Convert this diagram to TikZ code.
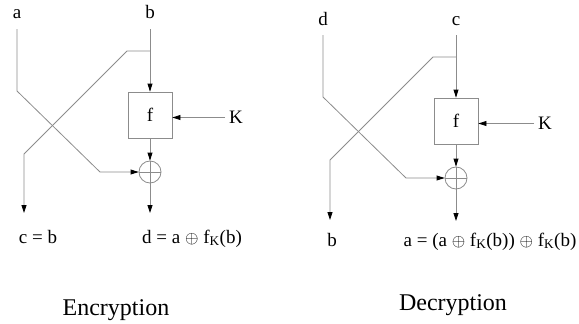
\documentclass[tikz,border=0pt]{standalone}
\usepackage{fontspec}
\setmainfont{Liberation Serif}
\usetikzlibrary{arrows.meta, positioning, calc}

\begin{document}
\begin{tikzpicture}[
    x=1pt, y=-1pt,
    wire/.style={draw=black!45, line width=0.8pt},
    arr/.style={wire, -{Triangle[length=8pt, width=5pt, color=black]}},
    lbl/.style={font=\fontsize{19}{22}\selectfont, inner sep=0pt,
                text height=13pt, text depth=2pt, outer ysep=8pt,
                outer xsep=4pt, anchor=base},
    fbox/.style={rectangle, draw=black!45, line width=0.8pt,
                 minimum width=44pt, minimum height=46pt, inner sep=0pt,
                 font=\fontsize{19}{22}\selectfont},
    xor/.style={circle, draw=black!45, line width=0.8pt, minimum size=22pt,
                inner sep=0pt,
                path picture={\draw[black!45, line width=0.8pt]
                  (path picture bounding box.north) -- (path picture bounding box.south)
                  (path picture bounding box.west) -- (path picture bounding box.east);}},
    heading/.style={font=\fontsize{24}{28}\selectfont, anchor=base}
]
  \useasboundingbox (0,0) rectangle (579,324);

  % Encryption
  \node[lbl] (a) at (17,19)  {a};
  \node[lbl] (b) at (150,19) {b};
  \node[fbox] (f1) at (150,115) {f};
  \node[lbl] (k1) at (236,123) {K};
  \node[xor] (x1) at (150,172) {};
  \coordinate (br1) at (150,51);
  \coordinate (c1end) at (24,213);
  \coordinate (d1end) at (150,213);

  \draw[arr] (b.south) -- (f1.north);
  \draw[arr] (k1.west) -- (k1.west -| f1.east);
  \draw[arr] (f1.south) -- (x1.north);
  \draw[arr] (a.south) -- (17,91) -- (100,172) -- (x1.west);
  \draw[arr] (br1) -- (127,51) -- (24,154) -- (c1end);
  \draw[arr] (x1.south) -- (d1end);

  \node[lbl] (c1) at (38,243)  {c = b};
  \node[lbl] (d1) at (192,243) {d = a $\oplus$ f\textsubscript{K}(b)};
  \node[heading] (enc) at (116,315) {Encryption};

  % Decryption
  \node[lbl] (d) at (323,25) {d};
  \node[lbl] (c) at (456,25) {c};
  \node[fbox] (f2) at (456,121) {f};
  \node[lbl] (k2) at (545,129) {K};
  \node[xor] (x2) at (456,178) {};
  \coordinate (br2) at (456,57);
  \coordinate (b2end) at (330,220);
  \coordinate (a2end) at (456,221);

  \draw[arr] (c.south) -- (f2.north);
  \draw[arr] (k2.west) -- (k2.west -| f2.east);
  \draw[arr] (f2.south) -- (x2.north);
  \draw[arr] (d.south) -- (323,97) -- (406,178) -- (x2.west);
  \draw[arr] (br2) -- (433,57) -- (330,160) -- (b2end);
  \draw[arr] (x2.south) -- (a2end);

  \node[lbl] (b2) at (332,246) {b};
  \node[lbl] (a2) at (490,246) {a = (a $\oplus$ f\textsubscript{K}(b)) $\oplus$ f\textsubscript{K}(b)};
  \node[heading] (dec) at (453,310) {Decryption};
\end{tikzpicture}
\end{document}
